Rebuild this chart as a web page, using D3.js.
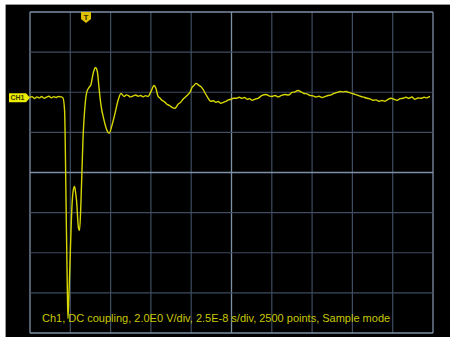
<!DOCTYPE html>
<html><head><meta charset="utf-8">
<script src="https://cdn.jsdelivr.net/npm/d3@7"></script>
<style>html,body{margin:0;padding:0;background:#fff;overflow:hidden}</style>
</head><body><svg id="c" width="450" height="337"></svg>
<script>
// time in ns (trigger at 0), voltage in V (relative to CH1 ground marker)
const timeNs = [-35,-33.5,-32,-30.5,-29,-27.5,-26,-24.5,-23,-21.5,-20,-18.5,-17,-15.5,-14.3,-13.3,-12.4,-11.6,-11.2,-10.6,-9.9,-8.7,-7.9,-7.1,-6.5,-5.9,-4.65,-4.0,-3.1,-1.9,-0.6,0.6,1.9,3.1,4.3,5.3,5.9,6.5,7.1,8.1,9.3,11.2,13.0,14.3,16.1,18.0,19.9,21.7,23.6,25,26.1,27.5,29.2,30.8,32.3,34,35.4,37,38.5,40.3,42.2,43.4,44.7,46,47.1,48.7,50.2,51.8,53.3,55.2,57.1,58.7,60.2,61.8,63.3,64.6,65.8,67,68.2,70.1,71.4,72.6,75.1,77.5,79,80.6,82,83.7,85.2,86.8,88.3,89.9,91.5,93.1,95,96.8,98.4,99.9,101.5,103,104.8,106.7,109.2,111.7,113.5,115.4,117.3,119.1,121.2,123.4,125.6,127.8,129.7,131.5,133.4,135.2,137,138.9,140.8,142.6,144.5,146.4,148.2,150.1,152,153.8,155.7,157.6,159.4,161.3,163.1,165,166.9,168.7,170.6,172.5,174.3,176.2,178,179.9,181.8,183.6,185.5,187.3,189.2,191.1,193,194.8,196.7,198.5,200.4,202.2,204,205.9,207.8,209.7,211.5,213.4,215.3];
const volts = [0.02,0.06,-0.03,0.05,0.0,0.07,-0.02,0.04,0.08,0.0,0.06,0.02,0.07,0.05,0.0,-0.62,-5.1,-9.5,-11.0,-9.8,-8.1,-5.36,-4.6,-4.41,-4.7,-5.1,-6.5,-6.6,-5.1,-2.1,-0.37,0.32,0.52,0.67,1.17,1.45,1.52,1.45,1.27,0.47,-0.37,-1.12,-1.62,-1.77,-1.37,-0.77,-0.12,0.22,0.07,0.15,0.12,0.05,0.1,0.14,0.08,0.12,0.05,0.11,0.07,0.32,0.62,0.47,0.07,-0.02,-0.12,-0.2,-0.32,-0.38,-0.47,-0.52,-0.32,-0.22,-0.07,0.05,0.17,0.3,0.52,0.62,0.72,0.62,0.55,0.42,0.07,-0.17,-0.14,-0.22,-0.18,-0.27,-0.22,-0.17,-0.1,-0.07,-0.02,-0.02,0.03,-0.02,0.02,-0.07,-0.04,-0.12,-0.06,-0.02,0.12,0.17,0.1,0.07,0.12,0.05,0.12,0.17,0.14,0.27,0.3,0.37,0.3,0.22,0.2,0.12,0.1,0.04,0.08,0.02,0.06,0.12,0.15,0.22,0.27,0.32,0.3,0.32,0.27,0.22,0.17,0.12,0.07,0.03,-0.02,-0.05,-0.12,-0.1,-0.17,-0.13,-0.17,-0.08,-0.02,-0.07,-0.12,-0.04,-0.02,0.03,-0.02,0.04,-0.07,-0.01,-0.02,0.03,0.0,0.07];

const voltsPerDiv = 2.0, nsPerDiv = 25, xDivs = 10, yDivs = 8;
const ch1OffsetDiv = 1.86;   // ground marker above center
const triggerDiv = 1.39;     // trigger position from left
const infoText = "Ch1, DC coupling, 2.0E0 V/div, 2.5E-8 s/div, 2500 points, Sample mode";

const svg = d3.select("#c");
const L = 30, R = 433, T = 12, B = 333;
svg.append("rect").attr("x",6).attr("y",5).attr("width",444).attr("height",332).attr("fill","#000");
svg.append("line").attr("x1",6).attr("x2",450).attr("y1",4.5).attr("y2",4.5).attr("stroke","#9a9a9a");
svg.append("line").attr("x1",5.5).attr("x2",5.5).attr("y1",4.5).attr("y2",337).attr("stroke","#9a9a9a");

const t0 = -triggerDiv*nsPerDiv;
const x = d3.scaleLinear().domain([t0, t0 + xDivs*nsPerDiv]).range([L, R]);
const vTop = (yDivs/2 - ch1OffsetDiv)*voltsPerDiv;
const y = d3.scaleLinear().domain([vTop - yDivs*voltsPerDiv, vTop]).range([B, T]);

const g = svg.append("g");
const xt = d3.range(0, xDivs+1).map(i => t0 + i*nsPerDiv);
const yt = d3.range(0, yDivs+1).map(i => vTop - i*voltsPerDiv);
xt.forEach((v,i) => {
  const main = (i===0||i===xDivs||i===xDivs/2);
  g.append("line").attr("x1",x(v)).attr("x2",x(v)).attr("y1",T).attr("y2",B)
   .attr("stroke", main ? "#7d90a6" : "#3e4d60").attr("stroke-width", main?1.3:1.2);
});
yt.forEach((v,i) => {
  const main = (i===0||i===yDivs||i===yDivs/2);
  g.append("line").attr("x1",L).attr("x2",R).attr("y1",y(v)).attr("y2",y(v))
   .attr("stroke", main ? "#7d90a6" : "#3e4d60").attr("stroke-width", main?1.3:1.2);
});

const data = timeNs.map((t,i)=>({t, v: volts[i]}));
svg.append("path").datum(data)
  .attr("d", d3.line().x(d=>x(d.t)).y(d=>y(d.v)).curve(d3.curveMonotoneX))
  .attr("fill","none").attr("stroke","#d6d600").attr("stroke-width",1.4);

// CH1 ground marker
const gy = y(0);
svg.append("path").attr("d",`M9,${gy-4.5}H26L30,${gy}L26,${gy+4.5}H9Z`).attr("fill","#ecec00");
svg.append("text").attr("x",17.5).attr("y",gy+2.5).attr("text-anchor","middle")
  .attr("font-family","Liberation Sans, Arial, sans-serif").attr("font-size",7).attr("font-weight","bold")
  .attr("fill","#3a3a00").text("CH1");

// Trigger marker
const tx = x(0);
svg.append("path").attr("d",`M${tx-5},12H${tx+5}V19L${tx},23L${tx-5},19Z`).attr("fill","#e0c200");
svg.append("text").attr("x",tx).attr("y",19.5).attr("text-anchor","middle")
  .attr("font-family","Liberation Sans, Arial, sans-serif").attr("font-size",8).attr("font-weight","bold")
  .attr("fill","#3a2a00").text("T");

svg.append("text").attr("x",42).attr("y",322)
  .attr("font-family","Liberation Sans, Arial, sans-serif").attr("font-size",11)
  .attr("fill","#c8c800").text(infoText);
</script></body></html>
